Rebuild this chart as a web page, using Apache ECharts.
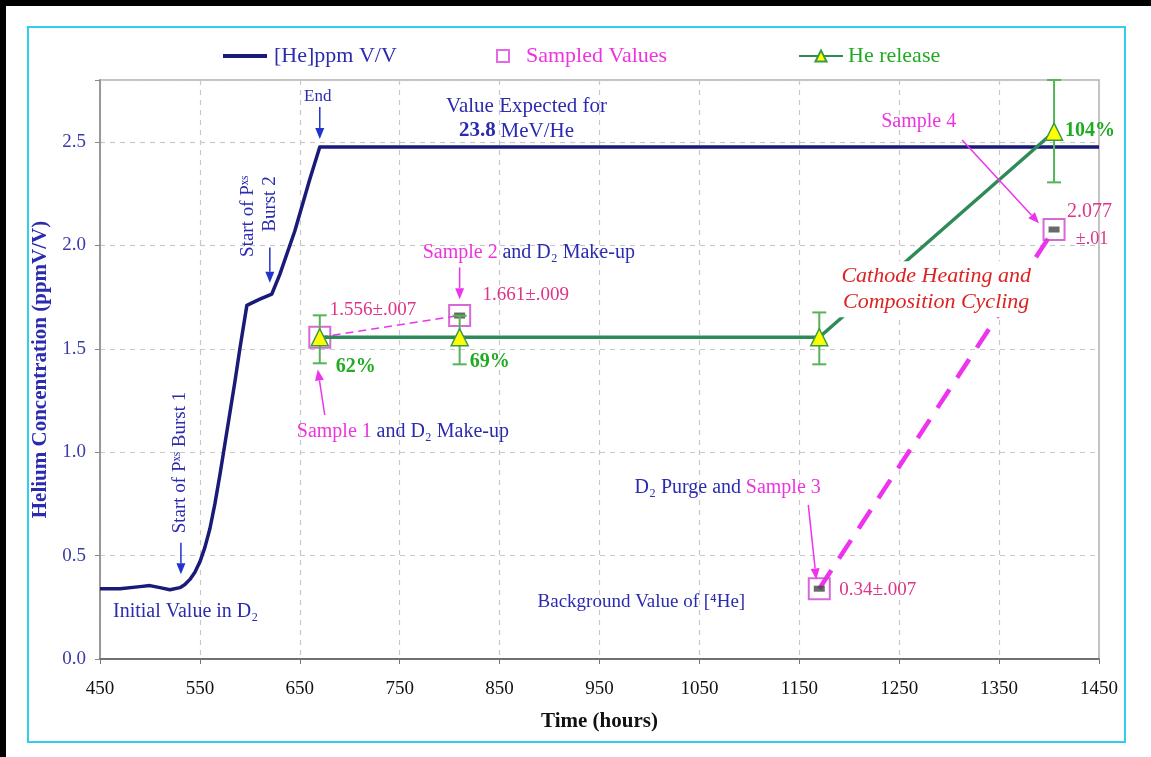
<!DOCTYPE html>
<html>
<head>
<meta charset="utf-8">
<script src="https://cdn.jsdelivr.net/npm/echarts@6/dist/echarts.min.js"></script>
<style>
html,body{margin:0;padding:0;background:#fff;}
#c{width:1151px;height:757px;}
</style>
</head>
<body>
<div id="c"></div>
<script>
// ---------- data ----------
const hours   = [450, 470, 490, 500, 510, 520, 530, 535, 540, 545, 550, 555, 560, 565, 570, 575, 580, 585, 590, 597, 610, 622, 630, 645, 660, 670, 1450];
const heConc  = [0.34, 0.34, 0.35, 0.355, 0.345, 0.335, 0.345, 0.36, 0.385, 0.42, 0.47, 0.54, 0.63, 0.75, 0.89, 1.04, 1.19, 1.34, 1.50, 1.71, 1.74, 1.765, 1.86, 2.07, 2.32, 2.476, 2.476];

const sampleHours  = [670, 810, 1170, 1405];
const sampleValues = [1.556, 1.661, 0.34, 2.077];

const releaseHours  = [670, 810, 1170, 1405];
const releaseValues = [1.556, 1.556, 1.556, 2.55];
const releaseLow    = [1.43, 1.425, 1.425, 2.305];
const releaseHigh   = [1.662, 1.66, 1.676, 2.80];

const xTicks = [450, 550, 650, 750, 850, 950, 1050, 1150, 1250, 1350, 1450];
const yTicks = [0.0, 0.5, 1.0, 1.5, 2.0, 2.5];

// ---------- styles ----------
const SERIF = '"Liberation Serif", "DejaVu Serif", serif';
const BLUE = '#2b2bb0';
const NAVY = '#1a1a78';
const MAG = '#ee33ee';
const PINK = '#dd3388';
const GREEN_TXT = '#22aa22';
const GREEN_LINE = '#2e8b57';

const zip = (a, b) => a.map((x, i) => [x, b[i]]);

const chart = echarts.init(document.getElementById('c'), null, {renderer: 'canvas'});

const option = {
  backgroundColor: '#fff',
  animation: false,
  grid: {left: 100, right: 52, top: 80, bottom: 98, show: true, borderColor: '#b0b0b0', borderWidth: 1.5},
  legend: [
    {data: [{name: '[He]ppm V/V', icon: 'rect', itemStyle: {color: NAVY}, textStyle: {color: BLUE}}], left: 218, top: 40, itemWidth: 44, itemHeight: 4,
     textStyle: {fontFamily: SERIF, fontSize: 22, padding: [0, 0, 0, 2]}, selectedMode: false},
    {data: [{name: 'Sampled Values', icon: 'rect', itemStyle: {color: '#fff', borderColor: '#dd44dd', borderWidth: 2}, textStyle: {color: '#ee33dd'}}],
     left: 491, top: 40, itemWidth: 12, itemHeight: 12,
     textStyle: {fontFamily: SERIF, fontSize: 22, padding: [0, 0, 0, 12]}, selectedMode: false},
    {data: [{name: 'He release', textStyle: {color: GREEN_TXT}}], left: 793, top: 40, itemWidth: 44, itemHeight: 14,
     textStyle: {fontFamily: SERIF, fontSize: 22}, selectedMode: false}
  ],
  xAxis: {
    type: 'value', min: 450, max: 1450, interval: 100,
    name: 'Time (hours)', nameLocation: 'middle', nameGap: 52,
    nameTextStyle: {fontFamily: SERIF, fontSize: 21, fontWeight: 'bold', color: '#111'},
    axisLine: {lineStyle: {color: '#555', width: 1.5}},
    axisTick: {show: true, length: 5, lineStyle: {color: '#777'}},
    axisLabel: {color: '#111', fontFamily: SERIF, fontSize: 19, margin: 21,
      formatter: v => xTicks.includes(v) ? String(v) : ''},
    splitLine: {show: true, lineStyle: {color: '#c8c8c8', type: [5, 5], width: 1.2}}
  },
  yAxis: {
    type: 'value', min: 0, max: 2.8, interval: 0.5,
    name: 'Helium Concentration (ppmV/V)', nameLocation: 'middle', nameGap: 47,
    nameTextStyle: {fontFamily: SERIF, fontSize: 21, fontWeight: 'bold', color: BLUE},
    axisLine: {show: true, lineStyle: {color: '#999', width: 2}},
    axisTick: {show: true, length: 5, lineStyle: {color: '#888'}},
    axisLabel: {color: '#3a3aaa', fontFamily: SERIF, fontSize: 19, margin: 14,
      formatter: v => yTicks.some(t => Math.abs(t - v) < 1e-6) ? v.toFixed(1) : ''},
    splitLine: {show: true, lineStyle: {color: '#c8c8c8', type: [5, 5], width: 1.2}}
  },
  series: [
    {
      name: '[He]ppm V/V', type: 'line', data: zip(hours, heConc),
      symbol: 'none', color: NAVY,
      lineStyle: {color: NAVY, width: 3.5, join: 'round'}, z: 3
    },
    {
      name: 'sampleLink1', type: 'line', data: zip(sampleHours, sampleValues).slice(0, 2),
      symbol: 'none', lineStyle: {color: MAG, width: 1.5, type: [8, 5]}, z: 4
    },
    {
      name: 'sampleLink2', type: 'line', data: zip(sampleHours, sampleValues).slice(2, 4),
      symbol: 'none', lineStyle: {color: MAG, width: 4.5, type: [22, 14]}, z: 4
    },
    {
      name: 'Sampled Values', type: 'scatter', data: zip(sampleHours, sampleValues),
      symbol: 'rect', symbolSize: 21,
      itemStyle: {color: 'rgba(255,255,255,0)', borderColor: '#cc44cc', borderWidth: 2}, z: 5
    },
    {
      name: 'sampleErr', type: 'scatter', data: zip(sampleHours, sampleValues).slice(1),
      symbol: 'rect', symbolSize: [11, 6], itemStyle: {color: '#444'}, z: 5
    },
    {
      name: 'releaseErr', type: 'custom',
      data: releaseHours.map((h, i) => [h, releaseLow[i], releaseHigh[i]]),
      renderItem: function (params, api) {
        const lo = api.coord([api.value(0), api.value(1)]);
        const hi = api.coord([api.value(0), api.value(2)]);
        const w = 7;
        const st = {stroke: '#55b455', lineWidth: 2};
        return {type: 'group', children: [
          {type: 'line', shape: {x1: lo[0], y1: lo[1], x2: hi[0], y2: hi[1]}, style: st},
          {type: 'line', shape: {x1: lo[0] - w, y1: lo[1], x2: lo[0] + w, y2: lo[1]}, style: st},
          {type: 'line', shape: {x1: hi[0] - w, y1: hi[1], x2: hi[0] + w, y2: hi[1]}, style: st}
        ]};
      },
      encode: {x: 0, y: [1, 2]}, z: 6, silent: true
    },
    {
      name: 'He release', type: 'line', data: zip(releaseHours, releaseValues),
      symbol: 'triangle', symbolSize: 17, color: GREEN_LINE,
      lineStyle: {color: GREEN_LINE, width: 3.5},
      itemStyle: {color: '#ffff00', borderColor: '#3a9a4a', borderWidth: 1.5}, z: 7
    }
  ]
};

chart.setOption(option);

// ---------- annotations (positions in data coordinates) ----------
function P(t, v) { return chart.convertToPixel({gridIndex: 0}, [t, v]); }

function text(t, v, str, opts) {
  const p = P(t, v);
  const o = opts || {};
  return {
    type: 'text', x: p[0], y: p[1], rotation: o.rotation || 0, z: 100,
    style: Object.assign({
      text: str, fill: o.fill || BLUE,
      fontFamily: SERIF, fontSize: o.size || 19, fontWeight: o.weight || 'normal', fontStyle: o.style || 'normal',
      textAlign: o.align || 'left', textVerticalAlign: 'middle'
    }, o.extra || {})
  };
}

function arrow(t1, v1, t2, v2, color, width) {
  const a = P(t1, v1), b = P(t2, v2);
  const dx = b[0] - a[0], dy = b[1] - a[1];
  const L = Math.sqrt(dx * dx + dy * dy);
  const ux = dx / L, uy = dy / L;
  const hl = 11, hw = 4.5;
  const base = [b[0] - ux * hl, b[1] - uy * hl];
  return {
    type: 'group', z: 100, children: [
      {type: 'line', shape: {x1: a[0], y1: a[1], x2: base[0], y2: base[1]}, style: {stroke: color, lineWidth: width || 1.5}, z: 100},
      {type: 'polygon', shape: {points: [b, [base[0] - uy * hw, base[1] + ux * hw], [base[0] + uy * hw, base[1] - ux * hw]]},
       style: {fill: color}, z: 100}
    ]
  };
}

const richSerif = (size, fill, weight) => ({fontFamily: SERIF, fontSize: size, fill: fill, fontWeight: weight || 'normal'});

const graphics = [
  text(668, 2.718, 'End', {size: 17, align: 'center'}),
  arrow(670, 2.67, 670, 2.515, '#2233cc', 1.5),
  text(877, 2.674, 'Value Expected for', {size: 21, align: 'center'}),
  text(867, 2.553, '{b|23.8} {n|MeV/He}', {align: 'center', extra: {rich: {b: richSerif(21, BLUE, 'bold'), n: richSerif(21, BLUE)}}}),
  text(598, 2.141, 'Start of Pˣˢ', {size: 19, align: 'center', rotation: Math.PI / 2}),
  text(620, 2.20, 'Burst 2', {size: 19, align: 'center', rotation: Math.PI / 2}),
  arrow(620, 1.99, 620, 1.82, '#2233cc', 1.5),
  text(530, 0.95, 'Start of Pˣˢ Burst 1', {size: 19, align: 'center', rotation: Math.PI / 2}),
  arrow(531, 0.562, 531, 0.41, '#2233cc', 1.5),
  text(463, 0.228, 'Initial Value in D₂', {size: 20}),
  text(680, 1.69, '1.556±.007', {size: 19, fill: PINK}),
  text(833, 1.759, '1.661±.009', {size: 19, fill: PINK}),
  text(773, 1.967, '{m|Sample 2} {b|and D₂ Make-up}', {extra: {rich: {m: richSerif(20, '#ee33dd'), b: richSerif(20, BLUE)}}}),
  arrow(810, 1.894, 810, 1.74, MAG, 1.5),
  text(686, 1.415, '62%', {size: 20, weight: 'bold', fill: GREEN_TXT}),
  text(820, 1.439, '69%', {size: 20, weight: 'bold', fill: GREEN_TXT}),
  arrow(675, 1.18, 668, 1.40, MAG, 1.5),
  text(647, 1.10, '{m|Sample 1} {b|and D₂ Make-up}', {extra: {rich: {m: richSerif(20, '#ee33dd'), b: richSerif(20, BLUE)}}}),
  text(1232, 2.60, 'Sample 4', {size: 20, fill: '#ee33dd'}),
  arrow(1313, 2.51, 1390, 2.107, MAG, 1.5),
  text(1416, 2.553, '104%', {size: 20, weight: 'bold', fill: GREEN_TXT}),
  text(1418, 2.161, '2.077', {size: 20, fill: PINK}),
  text(1443, 2.03, '±.01', {size: 18, fill: PINK, align: 'center'}),
  text(1287, 1.788, 'Cathode Heating and\nComposition Cycling', {size: 22, style: 'italic', fill: '#dd2222', align: 'center',
    extra: {backgroundColor: '#fff', padding: [2, 4], lineHeight: 26}}),
  text(985, 0.828, '{b|D₂ Purge and} {m|Sample 3}', {extra: {rich: {m: richSerif(20, '#ee33dd'), b: richSerif(20, BLUE)}}}),
  arrow(1159, 0.745, 1167, 0.385, MAG, 1.5),
  text(1190, 0.334, '0.34±.007', {size: 19, fill: PINK}),
  text(888, 0.275, 'Background Value of [⁴He]', {size: 19})
];

// frame decorations
graphics.push(
  {type: 'rect', shape: {x: 28, y: 27, width: 1097, height: 715}, style: {fill: 'none', stroke: '#33ccee', lineWidth: 2}, z: -10, silent: true},
  {type: 'rect', shape: {x: 0, y: 0, width: 1151, height: 6}, style: {fill: '#000'}, z: 200, silent: true},
  {type: 'rect', shape: {x: 0, y: 0, width: 6, height: 757}, style: {fill: '#000'}, z: 200, silent: true}
);

chart.setOption({graphic: {elements: graphics}});
</script>
</body>
</html>
